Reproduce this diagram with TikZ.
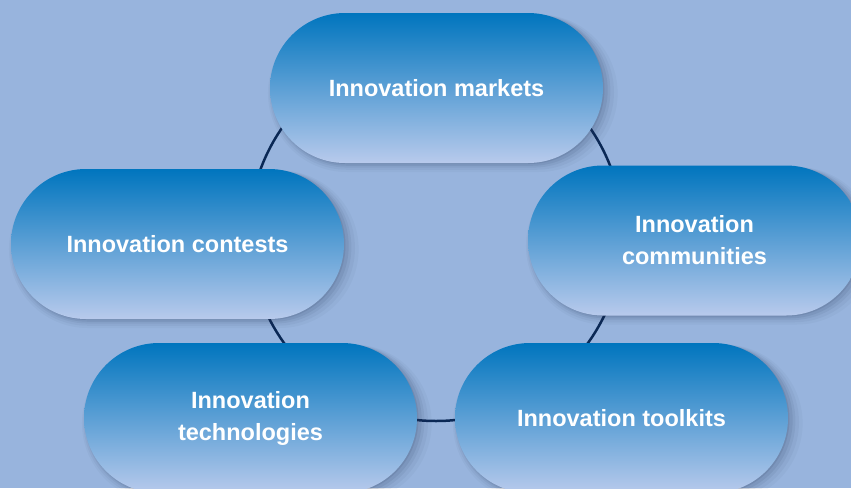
\documentclass[tikz,border=0pt]{standalone}
\usepackage{fontspec}
\setmainfont{Liberation Sans}
\usetikzlibrary{shapes.misc,shadows}
\definecolor{bg}{RGB}{152,180,221}
\definecolor{pilltop}{RGB}{0,117,190}
\definecolor{pillbot}{RGB}{184,202,236}
\definecolor{ring}{RGB}{10,40,85}
\definecolor{shade}{RGB}{40,55,90}
\tikzset{
  pill/.style={rounded rectangle, minimum width=333pt, minimum height=150pt,
    inner sep=0pt, top color=pilltop, bottom color=pillbot,
    text=white, font=\fontsize{23.5pt}{32pt}\selectfont\bfseries, align=center,
    general shadow={shadow xshift=6pt, shadow yshift=-5pt, shadow scale=1.05, fill=shade, opacity=0.04},
    general shadow={shadow xshift=5pt, shadow yshift=-4pt, shadow scale=1.035, fill=shade, opacity=0.05},
    general shadow={shadow xshift=4pt, shadow yshift=-3pt, shadow scale=1.02, fill=shade, opacity=0.07},
    general shadow={shadow xshift=3pt, shadow yshift=-2pt, shadow scale=1.01, fill=shade, opacity=0.09},
    general shadow={shadow xshift=1.5pt, shadow yshift=-1pt, fill=shade, opacity=0.12}},
  ringline/.style={draw=ring, line width=2.5pt}
}
\begin{document}
\begin{tikzpicture}[x=1pt,y=-1pt]
\useasboundingbox (0,0) rectangle (851,488);
\clip (0,0) rectangle (851,488);
\fill[bg] (0,0) rectangle (851,488);
\coordinate (ctr) at (436,234);
\draw[ringline] (ctr) circle[radius=187pt];
\node[pill] (markets) at (436.5,88) {Innovation markets};
\node[pill] (contests) at (177.5,244) {Innovation contests};
\node[pill] (communities) at (694.5,240.5) {Innovation\\communities};
\node[pill] (technologies) at (250.5,418) {Innovation\\technologies};
\node[pill] (toolkits) at (621.5,418) {Innovation toolkits};
\end{tikzpicture}
\end{document}
